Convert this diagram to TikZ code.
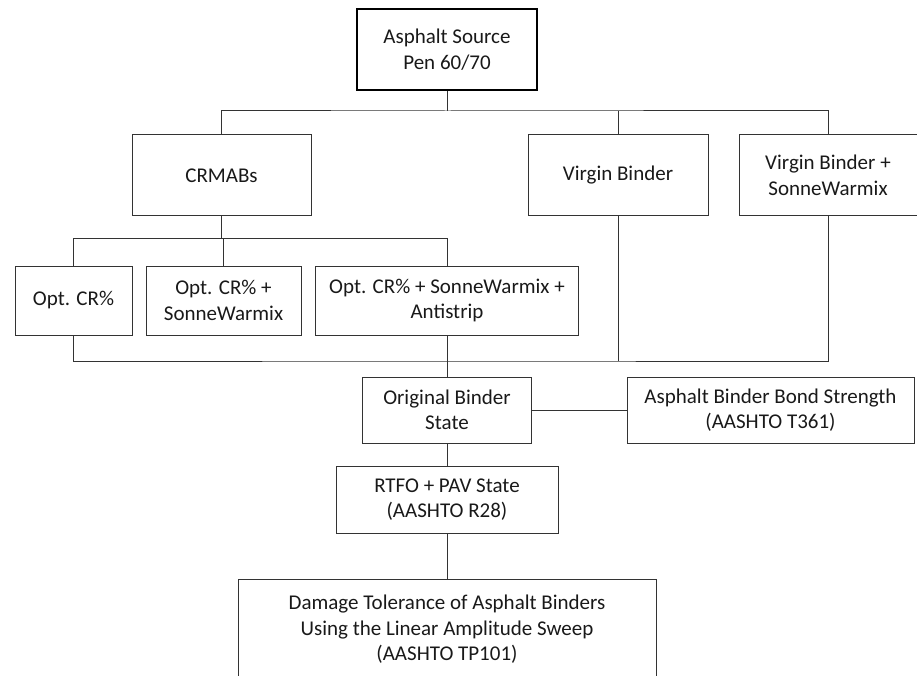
\documentclass[tikz,border=0pt]{standalone}
\usepackage{fontspec}
\setmainfont{Carlito}
\usepackage{tikz}
\usetikzlibrary{positioning}

\tikzset{
    box/.style={draw=black!80, line width=1pt, align=center, inner sep=2pt,
        text=black!90, font=\fontsize{21}{25.5}\selectfont},
}

\begin{document}
\begin{tikzpicture}[x=1pt, y=-1pt]
    \useasboundingbox (0,0) rectangle (917,676);
    \node (src) [box, draw=black, line width=2.2pt, minimum width=180pt, minimum height=81pt] at (447,49.5) {Asphalt Source\\Pen 60/70};
    \node (crmab) [box, minimum width=179pt, minimum height=81pt] at (221.5,175.5) {CRMABs};
    \node (virgin) [box, minimum width=180pt, minimum height=81pt] at (618,175) {Virgin Binder};
    \node (virginsw) [box, minimum width=178pt, minimum height=81pt] at (828,175.5) {Virgin Binder +\\SonneWarmix};
    \node (opt) [box, minimum width=117pt, minimum height=69pt] at (73.5,300.5) {Opt. CR\%};
    \node (optsw) [box, minimum width=155pt, minimum height=69pt] at (223.5,300.5) {Opt. CR\% +\\SonneWarmix};
    \node (optswas) [box, minimum width=263pt, minimum height=69pt] at (447,300.5) {Opt. CR\% + SonneWarmix +\\Antistrip};
    \node (orig) [box, minimum width=169pt, minimum height=66pt] at (447,410) {Original Binder\\State};
    \node (bond) [box, minimum width=287pt, minimum height=66pt] at (770.5,410) {Asphalt Binder Bond Strength\\(AASHTO T361)};
    \node (rtfo) [box, minimum width=222pt, minimum height=67pt] at (447,499.5) {RTFO + PAV State\\(AASHTO R28)};
    \node (lase) [box, minimum width=418pt, minimum height=101pt] at (447,629.5) {Damage Tolerance of Asphalt Binders\\Using the Linear Amplitude Sweep\\(AASHTO TP101)};
    % Branch points of the tree
    \coordinate (bus1) at (447,111);
    \coordinate (bus2) at (447,238);
    \coordinate (bus3) at (447,361);
    \begin{scope}[draw=black!80, line width=1pt]
        \draw (src.south) -- (bus1);
        \draw (crmab.north) |- (bus1) -| (virginsw.north);
        \draw (virgin.north) -- (virgin.north |- bus1);
        \draw (crmab.south) -- (crmab.south |- bus2);
        \draw (opt.north) |- (bus2) -- (optswas.north);
        \draw (optsw.north) -- (optsw.north |- bus2);
        \draw (opt.south) |- (bus3) -| (virginsw.south);
        \draw (virgin.south) -- (virgin.south |- bus3);
        \draw (optswas.south) -- (orig.north);
        \draw (orig.east) -- (bond.west);
        \draw (orig.south) -- (rtfo.north);
        \draw (rtfo.south) -- (lase.north);
    \end{scope}
\end{tikzpicture}
\end{document}
